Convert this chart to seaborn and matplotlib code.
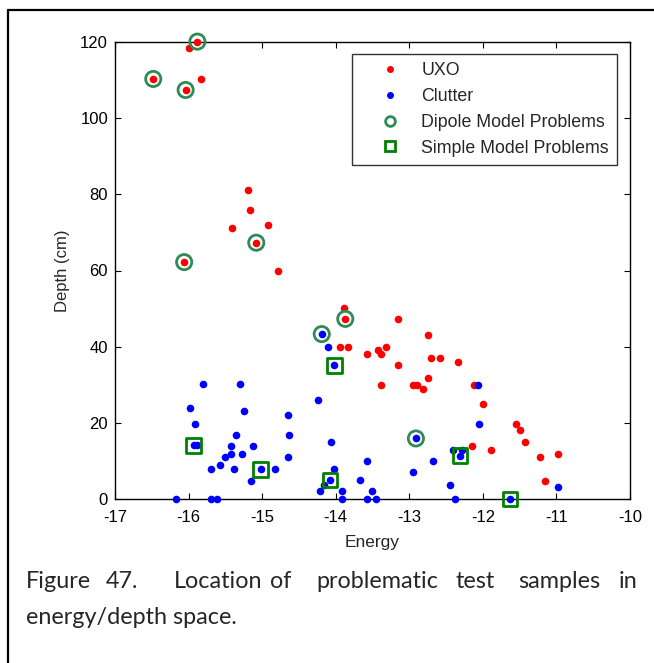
import matplotlib
matplotlib.use("Agg")
import matplotlib.pyplot as plt
import seaborn as sns
import pandas as pd
from matplotlib.lines import Line2D

# ---------------- data ----------------
uxo_energy = [-15.88, -16.00, -16.48, -15.83, -16.04, -15.19, -15.17, -15.41, -14.92,
              -15.08, -16.06, -14.78, -13.89, -13.87, -13.15, -12.74, -13.94, -13.83,
              -13.32, -13.42, -13.58, -13.39, -12.71, -12.58, -12.34, -13.15, -12.75,
              -13.38, -12.95, -12.90, -12.81, -12.12, -12.00, -11.55, -11.49, -11.43,
              -12.15, -11.89, -11.23, -10.98, -11.15]
uxo_depth = [120.1, 118.4, 110.3, 110.3, 107.4, 81.1, 75.9, 71.2, 72.0,
             67.3, 62.2, 60.0, 50.1, 47.3, 47.2, 43.1, 39.8, 39.8,
             39.8, 39.2, 38.1, 38.1, 36.9, 36.9, 35.9, 35.1, 31.9,
             29.9, 29.9, 29.9, 28.9, 29.9, 24.9, 19.8, 18.0, 15.0,
             14.0, 12.9, 11.1, 11.8, 4.8]

clutter_energy = [-14.19, -14.11, -14.02, -14.24, -12.06, -12.05, -12.29, -12.31,
                  -10.98, -11.63, -15.81, -15.30, -15.98, -15.25, -14.65, -15.91,
                  -15.36, -14.64, -15.93, -15.88, -15.43, -15.13, -15.43, -15.28,
                  -15.51, -14.65, -15.57, -15.70, -15.38, -15.02, -14.83, -15.15,
                  -16.17, -15.69, -15.61, -14.06, -12.91, -13.58, -12.68, -12.40,
                  -14.02, -12.95, -14.08, -14.16, -13.67, -14.21, -13.92, -13.51,
                  -12.44, -13.92, -13.57, -13.45, -12.38]
clutter_depth = [43.3, 39.8, 35.1, 26.0, 29.9, 19.8, 12.9, 11.4,
                 3.1, 0.0, 30.1, 30.1, 23.8, 23.2, 22.0, 19.8,
                 16.9, 16.9, 14.1, 14.1, 14.0, 14.0, 11.8, 11.8,
                 11.1, 11.1, 8.9, 7.8, 7.8, 7.8, 7.8, 4.8,
                 0.0, 0.0, 0.0, 15.0, 15.9, 10.0, 10.0, 12.9,
                 7.8, 7.0, 5.0, 3.8, 4.9, 2.0, 2.0, 2.0,
                 3.8, 0.0, 0.0, 0.0, 0.0]

dipole_energy = [-15.88, -16.48, -16.04, -15.08, -16.06, -13.87, -14.19, -12.91]
dipole_depth = [120.1, 110.3, 107.4, 67.3, 62.2, 47.3, 43.3, 15.9]

simple_energy = [-14.02, -15.93, -15.02, -14.08, -12.31, -11.63]
simple_depth = [35.1, 14.1, 7.8, 5.0, 11.4, 0.0]

x_ticks = [-17, -16, -15, -14, -13, -12, -11, -10]
y_ticks = [0, 20, 40, 60, 80, 100, 120]
legend_labels = ["UXO", "Clutter", "Dipole Model Problems", "Simple Model Problems"]

# ---------------- figure ----------------
sns.set_theme(style="white")
plt.rcParams['font.family'] = ['Liberation Sans', 'DejaVu Sans']
plt.rcParams['axes.unicode_minus'] = False

fig = plt.figure(figsize=(6.54, 6.63), dpi=100)
ax = fig.add_axes([115/654, 1-499/663, 515/654, 457/663])

uxo = pd.DataFrame({"Energy": uxo_energy, "Depth": uxo_depth})
clu = pd.DataFrame({"Energy": clutter_energy, "Depth": clutter_depth})
dip = pd.DataFrame({"Energy": dipole_energy, "Depth": dipole_depth})
sim = pd.DataFrame({"Energy": simple_energy, "Depth": simple_depth})

red = "#ff0000"
blue = "#0000ff"
circ = "#2e8b57"
sq = "#008000"

sns.scatterplot(data=uxo, x="Energy", y="Depth", ax=ax, color=red, s=30,
                linewidth=0, marker="o", zorder=3, clip_on=False)
sns.scatterplot(data=clu, x="Energy", y="Depth", ax=ax, color=blue, s=30,
                linewidth=0, marker="o", zorder=3, clip_on=False)
sns.scatterplot(data=dip, x="Energy", y="Depth", ax=ax, s=120, marker="o",
                facecolor="none", edgecolor=circ, linewidth=2.0, zorder=4, clip_on=False)
sns.scatterplot(data=sim, x="Energy", y="Depth", ax=ax, s=110, marker="s",
                facecolor="none", edgecolor=sq, linewidth=2.0, zorder=4, clip_on=False)

ax.set_xlim(-17, -10)
ax.set_ylim(0, 120)
ax.set_xticks(x_ticks)
ax.set_xticklabels([str(t) for t in x_ticks])
ax.set_yticks(y_ticks)
ax.set_yticklabels([str(t) for t in y_ticks])
ax.tick_params(direction="in", length=4, width=0.8, top=True, right=True,
               bottom=True, left=True, labelsize=12, colors="black")
ax.tick_params(axis="x", pad=8)
ax.tick_params(axis="y", pad=5)
for sp in ax.spines.values():
    sp.set_visible(True)
    sp.set_color("black")
    sp.set_linewidth(1.0)
ax.set_xlabel("Energy", fontsize=12.5, labelpad=7)
ax.set_ylabel("Depth (cm)", fontsize=12, labelpad=7)

handles = [
    Line2D([], [], linestyle="none", marker="o", markersize=4, color=red),
    Line2D([], [], linestyle="none", marker="o", markersize=4, color=blue),
    Line2D([], [], linestyle="none", marker="o", markersize=7, markerfacecolor="none",
           markeredgecolor=circ, markeredgewidth=2),
    Line2D([], [], linestyle="none", marker="s", markersize=7, markerfacecolor="none",
           markeredgecolor=sq, markeredgewidth=2),
]
leg = ax.legend(handles, legend_labels, loc="upper right",
                bbox_to_anchor=(0.9748, 0.9737), borderaxespad=0, fancybox=False,
                frameon=True, fontsize=12.8, handlelength=3.4, handletextpad=0.05,
                borderpad=0.45, labelspacing=0.5)
leg.get_frame().set_edgecolor("black")
leg.get_frame().set_linewidth(1.0)

# figure border (left and top)
fig.add_artist(Line2D([8/654, 8/654], [0, 1-10/663], transform=fig.transFigure,
                      color="black", linewidth=1.6))
fig.add_artist(Line2D([8/654, 1], [1-10/663, 1-10/663], transform=fig.transFigure,
                      color="black", linewidth=1.6))

# caption (justified first line)
cap_font = ['Lato', 'DejaVu Sans']
words = ["Figure", "47.", "Location", "of", "problematic", "test", "samples", "in"]
word_x = [26, 106, 174, 270, 316, 456, 518, 619]
for w, xp in zip(words, word_x):
    fig.text(xp/654, 1-582/663, w, fontsize=16.8, family=cap_font, va="center", ha="left")
fig.text(26/654, 1-618/663, "energy/depth space.", fontsize=16.8, family=cap_font,
         va="center", ha="left")

fig.savefig("out.png", dpi=100)
